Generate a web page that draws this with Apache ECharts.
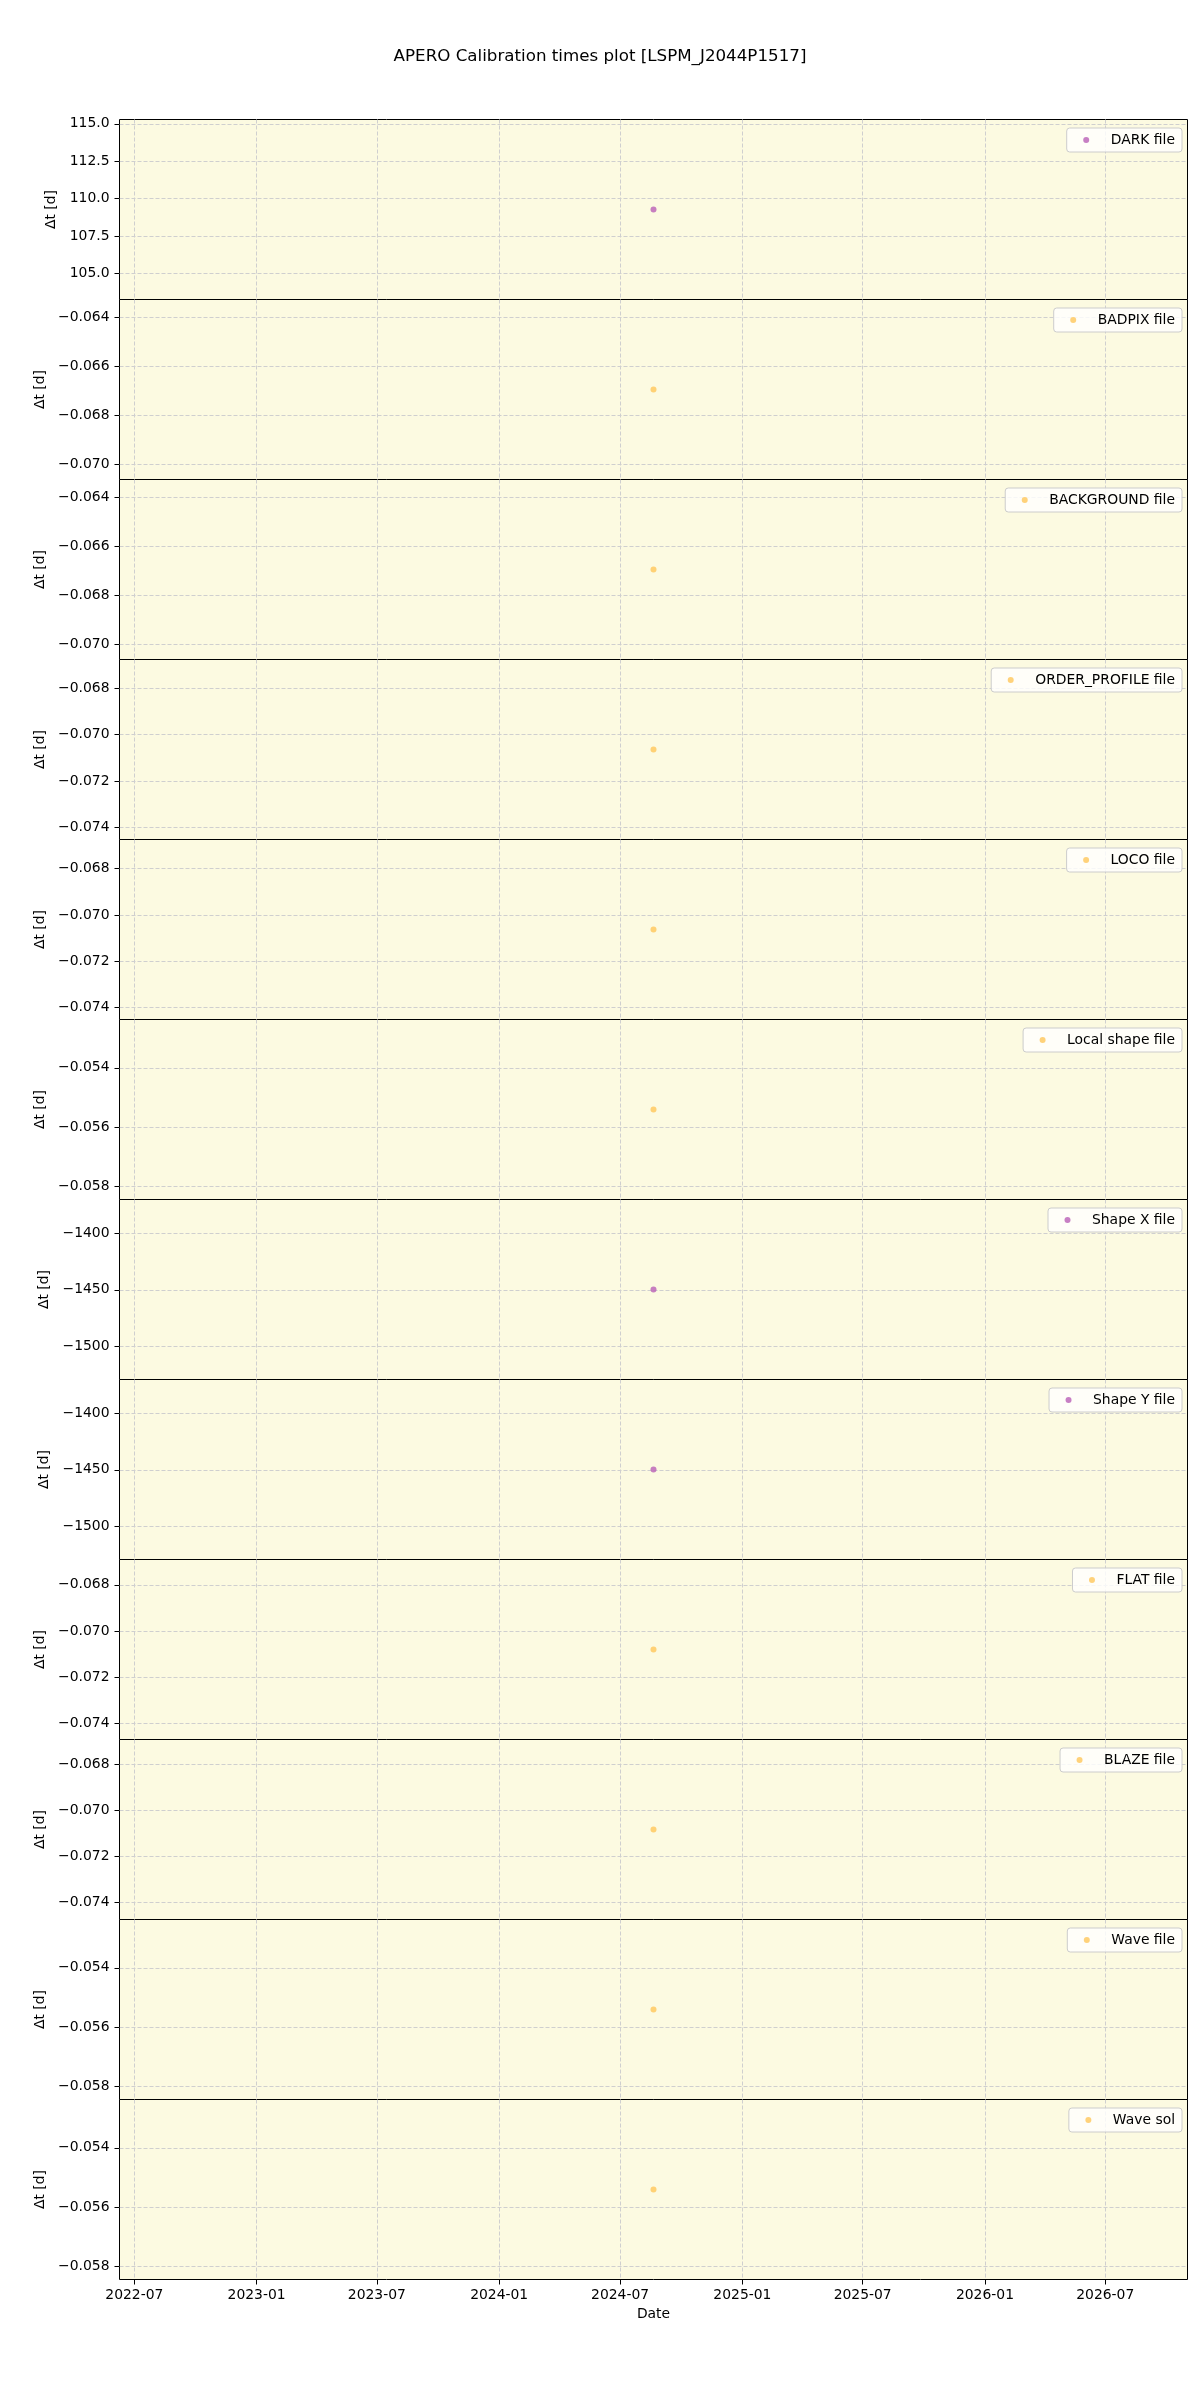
<!DOCTYPE html>
<html>
<head>
<meta charset="utf-8">
<script src="https://cdn.jsdelivr.net/npm/echarts@6/dist/echarts.min.js"></script>
<style>
  html, body { margin: 0; padding: 0; background: #ffffff; }
  #chart { width: 1200px; height: 2400px; }
</style>
</head>
<body>
<div id="chart"></div>
<script>
// ---------------- DATA ----------------
const chartTitle = 'APERO Calibration times plot [LSPM_J2044P1517]';
const categories = ['DARK file', 'BADPIX file', 'BACKGROUND file', 'ORDER_PROFILE file', 'LOCO file',
  'Local shape file', 'Shape X file', 'Shape Y file', 'FLAT file', 'BLAZE file', 'Wave file', 'Wave sol'];
const obsDates = ['2024-08-20T06:00:00Z', '2024-08-20T06:00:00Z', '2024-08-20T06:00:00Z', '2024-08-20T06:00:00Z',
  '2024-08-20T06:00:00Z', '2024-08-20T06:00:00Z', '2024-08-20T06:00:00Z', '2024-08-20T06:00:00Z',
  '2024-08-20T06:00:00Z', '2024-08-20T06:00:00Z', '2024-08-20T06:00:00Z', '2024-08-20T06:00:00Z'];
const deltaT = [109.28, -0.06695, -0.06694, -0.07064, -0.07063, -0.05541,
  -1449.7, -1449.7, -0.0708, -0.07084, -0.05541, -0.05541];
const yTicks = [
  [105.0, 107.5, 110.0, 112.5, 115.0],
  [-0.070, -0.068, -0.066, -0.064],
  [-0.070, -0.068, -0.066, -0.064],
  [-0.074, -0.072, -0.070, -0.068],
  [-0.074, -0.072, -0.070, -0.068],
  [-0.058, -0.056, -0.054],
  [-1500, -1450, -1400],
  [-1500, -1450, -1400],
  [-0.074, -0.072, -0.070, -0.068],
  [-0.074, -0.072, -0.070, -0.068],
  [-0.058, -0.056, -0.054],
  [-0.058, -0.056, -0.054]
];
const yTickDecimals = [1, 3, 3, 3, 3, 3, 0, 0, 3, 3, 3, 3];
const xTicks = ['2022-07-01', '2023-01-01', '2023-07-01', '2024-01-01', '2024-07-01',
  '2025-01-01', '2025-07-01', '2026-01-01', '2026-07-01'];
const xLabel = 'Date';
const yLabel = 'Δt [d]';

// ---------------- STYLE ----------------
const PURPLE = '#b95fb6';
const ORANGE = '#ffc75a';
const markerColors = [PURPLE, ORANGE, ORANGE, ORANGE, ORANGE, ORANGE, PURPLE, PURPLE, ORANGE, ORANGE, ORANGE, ORANGE];
const FONT = '"DejaVu Sans", "Liberation Sans", sans-serif';
const FS = 13.9;
const PLOT_LEFT = 119.5, PLOT_W = 1068, PLOT_TOP = 119.5, PANEL_H = 180;
const BG = '#fcfae1';
const GRID_LINE = { show: true, lineStyle: { color: '#cfcfcf', width: 1, type: [4, 2] } };

// ---------------- BUILD ----------------
const DAY = 86400000;
const tMid = Date.parse(obsDates[0]);
// matplotlib-like expansion of a single date (+-2 yr) plus 5% margins
const halfSpan = 730.5 * 1.1 * DAY;
const xMin = tMid - halfSpan, xMax = tMid + halfSpan;
const xTickVals = xTicks.map(s => Date.parse(s + 'T00:00:00Z'));

const fmtDate = v => {
  const d = new Date(v);
  return d.getUTCFullYear() + '-' + String(d.getUTCMonth() + 1).padStart(2, '0');
};
const fmtNum = (v, dec) => {
  const s = Math.abs(v).toFixed(dec);
  return (v < 0 ? '\u2212' : '') + s;
};

const cv = document.createElement('canvas').getContext('2d');
cv.font = FS + 'px "DejaVu Sans"';

const grids = [], xAxes = [], yAxes = [], series = [], legends = [];
const n = categories.length;
for (let i = 0; i < n; i++) {
  const top = PLOT_TOP + i * PANEL_H;
  const last = i === n - 1;
  grids.push({
    left: PLOT_LEFT, top: top, width: PLOT_W, height: PANEL_H,
    show: true, backgroundColor: BG, borderColor: '#000', borderWidth: 1, containLabel: false
  });
  xAxes.push({
    type: 'value', gridIndex: i, min: xMin, max: xMax,
    axisLine: { show: false, onZero: false },
    axisTick: { show: last, length: 5, lineStyle: { color: '#000', width: 1 }, customValues: xTickVals },
    axisLabel: {
      show: last, customValues: xTickVals, formatter: fmtDate, margin: 9,
      color: '#000', fontSize: FS, fontFamily: FONT
    },
    splitLine: GRID_LINE,
    name: last ? xLabel : '', nameLocation: 'middle', nameGap: 28,
    nameTextStyle: { color: '#000', fontSize: FS, fontFamily: FONT }
  });
  const v = deltaT[i];
  const yMin = v - 0.055 * Math.abs(v), yMax = v + 0.055 * Math.abs(v);
  const dec = yTickDecimals[i];
  const labelW = Math.max(...yTicks[i].map(t => cv.measureText(fmtNum(t, dec)).width));
  yAxes.push({
    type: 'value', gridIndex: i, min: yMin, max: yMax,
    axisLine: { show: false, onZero: false },
    axisTick: { show: true, length: 5, lineStyle: { color: '#000', width: 1 }, customValues: yTicks[i] },
    axisLabel: {
      customValues: yTicks[i], formatter: val => fmtNum(val, dec), margin: 10,
      color: '#000', fontSize: FS, fontFamily: FONT
    },
    splitLine: GRID_LINE,
    name: yLabel, nameLocation: 'middle', nameRotate: 90, nameGap: 10 + labelW + 3,
    nameTextStyle: { color: '#000', fontSize: FS, fontFamily: FONT }
  });
  series.push({
    type: 'scatter', name: categories[i], xAxisIndex: i, yAxisIndex: i,
    symbol: 'circle', symbolSize: 6, itemStyle: { color: markerColors[i] },
    data: [[Date.parse(obsDates[i]), deltaT[i]]], silent: true, animation: false
  });
  legends.push({
    data: [categories[i]], right: 1200 - 1182, top: top + 8.5,
    icon: 'circle', itemWidth: 39, itemHeight: 6, itemGap: 0,
    padding: [4, 7, 4, 16.5], selectedMode: false,
    backgroundColor: 'rgba(255,255,255,0.8)', borderColor: '#cccccc', borderWidth: 1, borderRadius: 3,
    textStyle: { color: '#000', fontSize: FS, fontFamily: FONT, lineHeight: 16 }
  });
}

const chart = echarts.init(document.getElementById('chart'), null, { renderer: 'canvas' });
chart.setOption({
  backgroundColor: '#ffffff',
  animation: false,
  title: {
    text: chartTitle, left: 'center', top: 43,
    textStyle: { color: '#000', fontSize: 16.7, fontWeight: 'normal', fontFamily: FONT }
  },
  grid: grids, xAxis: xAxes, yAxis: yAxes, legend: legends, series: series
});
</script>
</body>
</html>
